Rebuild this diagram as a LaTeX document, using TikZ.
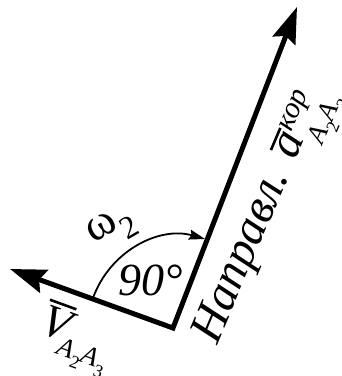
\documentclass[tikz,border=0pt]{standalone}
\usepackage{fontspec}
\setmainfont{Liberation Serif}
\usetikzlibrary{arrows.meta}
\newcommand\ovl[2][2.6pt]{\leavevmode\vbox{\hrule height #1\kern 3pt\hbox{#2}}}
\newcommand\subAA[1][-0.4em]{\raisebox{#1}{\fontsize{27}{27}\selectfont\itshape A\raisebox{-0.3em}{\fontsize{18}{18}\selectfont\upshape 2}A\raisebox{-0.3em}{\fontsize{18}{18}\selectfont\upshape 3}}}
\tikzset{bigtip/.tip={Stealth[length=36pt,width=24pt,inset=5pt]}}
\begin{document}
\begin{tikzpicture}[x=1pt,y=1pt,
  every node/.style={font=\fontsize{46}{52}\selectfont, inner sep=0pt},
  vecline/.style={line width=5pt, miter limit=10},
  rotarc/.style={line width=1.8pt, -{Stealth[length=16pt,width=10pt,inset=2pt]}}]
\useasboundingbox (0,0) rectangle (342,376);
\coordinate (O) at (173,48);
\coordinate (L) at (10,107);
\coordinate (U) at (297,369);
\coordinate (S) at (93,78);
\coordinate (E) at (205,137);
\draw[vecline, bigtip-bigtip] (L) -- (O) -- (U);
\draw[rotarc] (S) .. controls (110,125) and (159,150) .. (E);
\node[rotate=30] (w) at (112,147) {ω\raisebox{-0.3em}{\fontsize{32}{32}\selectfont 2}};
\node (n90) at (151,96) {\itshape 90°};
\node[rotate=-20, anchor=base west] (v) at (38,44) {\ovl{\itshape V}\hspace{-0.1em}\subAA[-0.3em]};
\node[rotate=67, anchor=base west, font=\fontsize{48}{52}\selectfont] (t) at (217,30) {\itshape Направл.\hspace{0.35em}\ovl{a}\rlap{\raisebox{0.3em}{\fontsize{30}{30}\selectfont\itshape кор}}\subAA};
\end{tikzpicture}
\end{document}
